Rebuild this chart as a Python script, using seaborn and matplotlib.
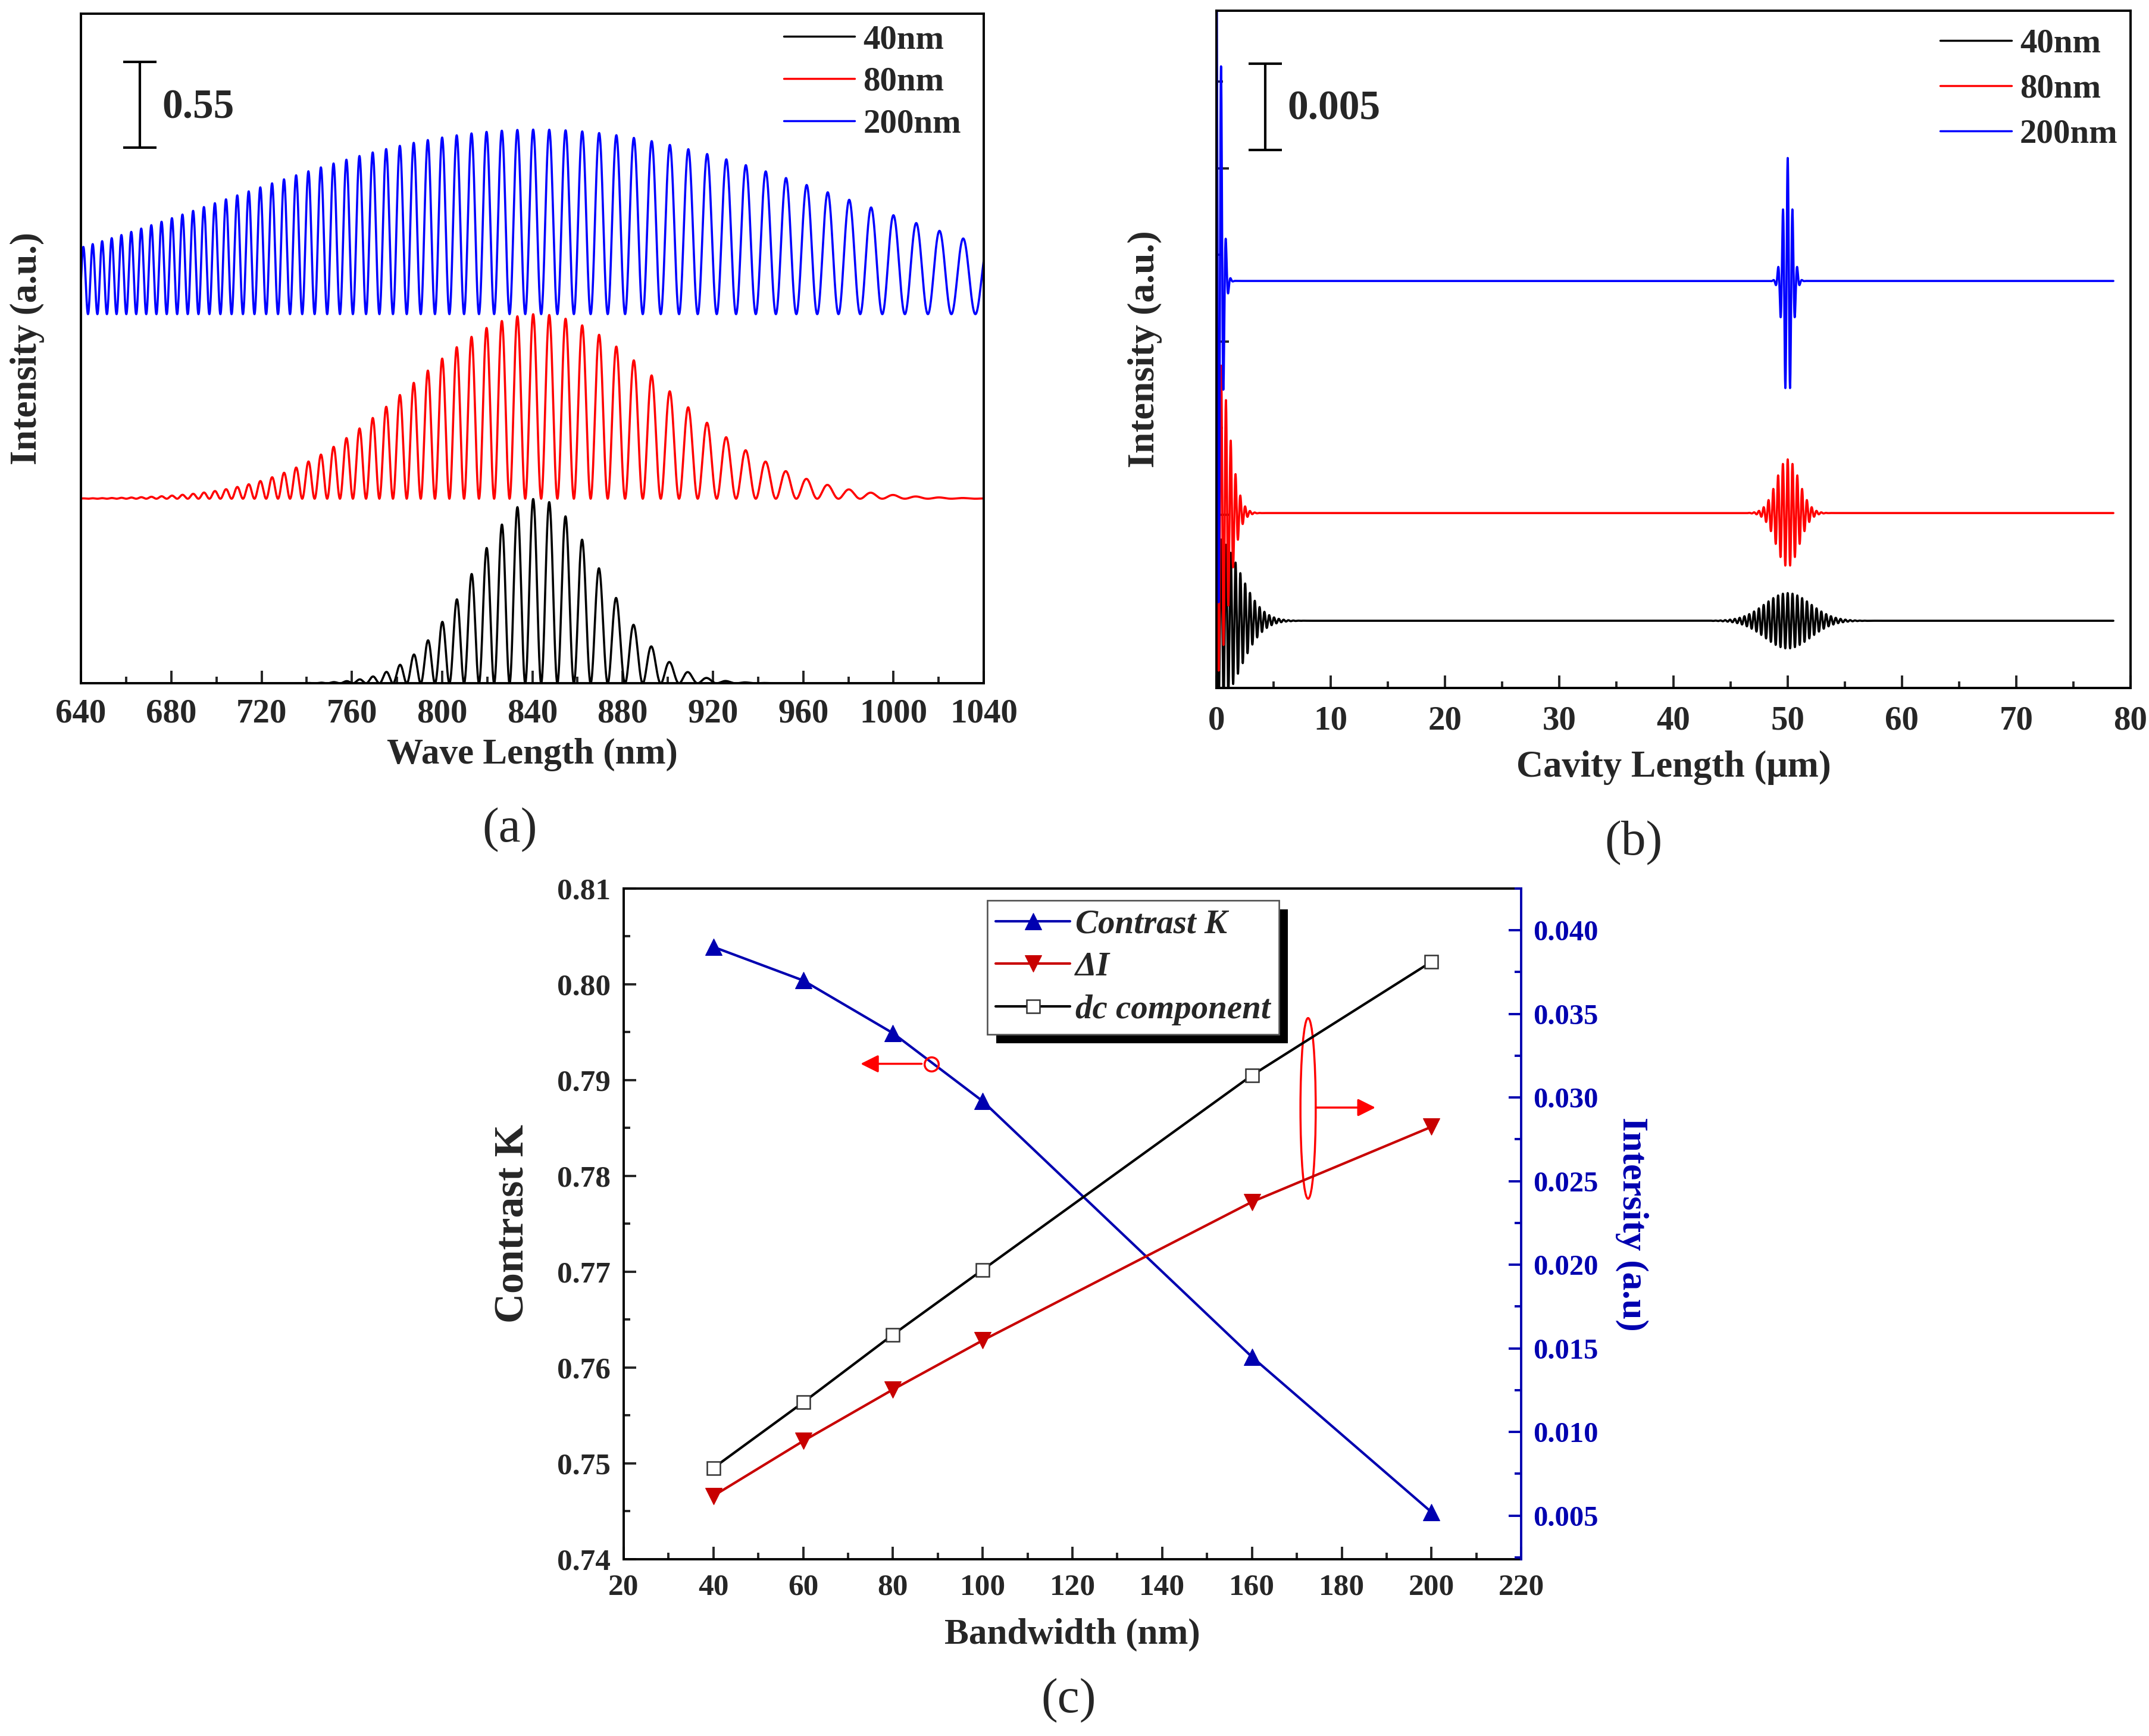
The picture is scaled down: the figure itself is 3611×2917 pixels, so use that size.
import numpy as np
import pandas as pd
import matplotlib
matplotlib.use('Agg')
import matplotlib.pyplot as plt
import seaborn as sns
from matplotlib.patches import Ellipse
from matplotlib import patheffects as pe
from matplotlib.ticker import MultipleLocator, FormatStrFormatter

# ---- (a) spectra: values ----
bandwidths = [40, 80, 200]            # nm, source bandwidth of each curve
curve_labels = ['40nm', '80nm', '200nm']
curve_colors = ['black', 'red', 'blue']
center_wl = 842.0                     # nm, centre of the envelopes
cavity_um = 50.0                      # um, cavity length (fringe spacing / peak in b)
peak_a = 1.19                         # fringe peak height in (a)
offsets_a = [0.0, 1.19, 2.38]         # stacking offsets in (a)
wl_lim = (640, 1040)

# ---- (b) cavity-length transform ----
peak_b = [0.0016, 0.0031, 0.0071]     # amplitude of the 50 um peak
dc_ratio = 3.0                        # dc peak / cavity peak
offsets_b = [0.00388, 0.0101, 0.0235]
z_end = 78.5

# ---- (c) contrast / intensity vs bandwidth ----
bandwidth_c = [40, 60, 80, 100, 160, 200]
contrast_k = [0.8039, 0.8004, 0.7949, 0.7878, 0.7611, 0.7449]
delta_i = [0.00618, 0.00946, 0.01254, 0.01548, 0.02376, 0.02825]
dc_comp = [0.00785, 0.01177, 0.01582, 0.0197, 0.03133, 0.03812]

sns.set_theme(style='ticks')
plt.rcParams['font.family'] = ['Liberation Serif', 'DejaVu Serif']
plt.rcParams['font.weight'] = 'bold'
plt.rcParams['axes.linewidth'] = 2.8

navy = '#0000b0'
dred = '#c80000'

fig = plt.figure(figsize=(36.11, 29.17), dpi=100)
ax_a = fig.add_axes([0.0377, 0.6064, 0.4201, 0.3857])
ax_b = fig.add_axes([0.5660, 0.6037, 0.4254, 0.3901])
ax_c = fig.add_axes([0.2902, 0.1019, 0.4177, 0.3863])


def style_ticks(ax, size):
    ax.tick_params(which='major', direction='in', length=15, width=2.8,
                   labelsize=size, top=False, right=False)
    ax.tick_params(which='minor', direction='in', length=8, width=2.8,
                   top=False, right=False)
    for s in ax.spines.values():
        s.set_color('black')
        s.set_linewidth(2.8)


# ---------------- panel (a) ----------------
wl = np.linspace(wl_lim[0], wl_lim[1], 8001)
rows = []
for bw, lab, off in zip(bandwidths, curve_labels, offsets_a):
    env = np.exp(-((wl - center_wl) / bw) ** 2)
    inten = off + peak_a / 2 * env * (1 + np.cos(4 * np.pi * cavity_um * 1000 / wl))
    rows.append(pd.DataFrame({'wl': wl, 'I': inten, 'curve': lab}))
df_a = pd.concat(rows, ignore_index=True)

sns.lineplot(data=df_a, x='wl', y='I', hue='curve', palette=curve_colors,
             hue_order=curve_labels, estimator=None, sort=False, lw=2.6,
             ax=ax_a)
ax_a.set_xlim(*wl_lim)
ax_a.set_ylim(0, 4.317)
ax_a.xaxis.set_major_locator(MultipleLocator(40))
ax_a.xaxis.set_minor_locator(MultipleLocator(20))
ax_a.set_yticks([])
style_ticks(ax_a, 41)
ax_a.tick_params(axis='x', pad=18)
ax_a.set_xlabel('Wave Length (nm)', fontsize=44, fontweight='bold')
ax_a.set_ylabel('Intensity (a.u.)', fontsize=45, fontweight='bold')
ax_a.xaxis.set_label_coords(0.5, -0.082)
ax_a.yaxis.set_label_coords(-0.040, 0.5)
ax_a.errorbar([666], [3.73], yerr=[0.275], color='black', lw=3,
              capsize=20, capthick=3)
ax_a.text(676, 3.71, '0.55', fontsize=50, fontweight='bold', va='center',
          ha='left')
leg = ax_a.legend(loc='upper right', bbox_to_anchor=(0.975, 0.984),
                  frameon=False, fontsize=41, handlelength=2.1,
                  handletextpad=0.25, labelspacing=0.33, borderaxespad=0,
                  borderpad=0)
for ln in leg.get_lines():
    ln.set_linewidth(2.5)

# ---------------- panel (b) ----------------
z = np.linspace(0, z_end, 7851)
k0 = 2 * np.pi / (center_wl / 1000)
rows = []
for bw, lab, amp, off in zip(bandwidths, curve_labels, peak_b, offsets_b):
    w = (center_wl / 1000) ** 2 / (2 * np.pi * bw / 1000)
    g = dc_ratio * np.exp(-(z / w) ** 2) * np.cos(2 * k0 * z)
    g += np.exp(-((z - cavity_um) / w) ** 2) * np.cos(2 * k0 * (z - cavity_um))
    rows.append(pd.DataFrame({'z': z, 'I': off + amp * g, 'curve': lab}))
df_b = pd.concat(rows, ignore_index=True)

sns.lineplot(data=df_b, x='z', y='I', hue='curve', palette=curve_colors,
             hue_order=curve_labels, estimator=None, sort=False, lw=2.6,
             ax=ax_b)
ax_b.set_xlim(0, 80)
ax_b.set_ylim(0, 0.0391)
ax_b.xaxis.set_major_locator(MultipleLocator(10))
ax_b.xaxis.set_minor_locator(MultipleLocator(5))
ax_b.yaxis.set_major_locator(MultipleLocator(0.01))
ax_b.yaxis.set_minor_locator(MultipleLocator(0.005))
style_ticks(ax_b, 41)
ax_b.tick_params(axis='y', labelleft=False)
ax_b.tick_params(axis='x', pad=21)
ax_b.set_xlabel('Cavity Length (\u03bcm)', fontsize=45, fontweight='bold')
ax_b.set_ylabel('Intensity (a.u.)', fontsize=46, fontweight='bold')
ax_b.xaxis.set_label_coords(0.5, -0.092)
ax_b.yaxis.set_label_coords(-0.059, 0.5)
ax_b.errorbar([4.3], [0.03355], yerr=[0.0025], color='black', lw=3,
              capsize=20, capthick=3)
ax_b.text(6.2, 0.0334, '0.005', fontsize=50, fontweight='bold', va='center',
          ha='left')
leg = ax_b.legend(loc='upper right', bbox_to_anchor=(0.986, 0.974),
                  frameon=False, fontsize=41, handlelength=2.1,
                  handletextpad=0.25, labelspacing=0.42, borderaxespad=0,
                  borderpad=0)
for ln in leg.get_lines():
    ln.set_linewidth(2.5)

# ---------------- panel (c) ----------------
ax2 = ax_c.twinx()
sns.lineplot(x=bandwidth_c, y=contrast_k, ax=ax_c, color=navy, marker='^',
             markersize=20, markeredgecolor=navy, lw=3, label='Contrast K',
             legend=False)
sns.lineplot(x=bandwidth_c, y=delta_i, ax=ax2, color=dred, marker='v',
             markersize=20, markeredgecolor=dred, lw=3, label='\u0394I',
             legend=False)
sns.lineplot(x=bandwidth_c, y=dc_comp, ax=ax2, color='black', marker='s',
             markersize=16, markerfacecolor='white', markeredgecolor='#333333',
             markeredgewidth=1.8, lw=3, label='dc component', legend=False)

ax_c.set_xlim(20, 220)
ax_c.set_ylim(0.74, 0.81)
ax2.set_ylim(0.0024, 0.0425)
ax_c.xaxis.set_major_locator(MultipleLocator(20))
ax_c.xaxis.set_minor_locator(MultipleLocator(10))
ax_c.yaxis.set_major_locator(MultipleLocator(0.01))
ax_c.yaxis.set_minor_locator(MultipleLocator(0.005))
ax_c.yaxis.set_major_formatter(FormatStrFormatter('%.2f'))
style_ticks(ax_c, 37)
ax_c.tick_params(axis='x', pad=18)
ax_c.tick_params(axis='y', pad=16)
ax_c.spines['right'].set_visible(False)

ax2.yaxis.set_major_locator(MultipleLocator(0.005))
ax2.yaxis.set_minor_locator(MultipleLocator(0.0025))
ax2.yaxis.set_major_formatter(FormatStrFormatter('%.3f'))
ax2.tick_params(which='major', direction='in', length=15, width=2.8,
                labelsize=35, colors=navy, pad=14)
ax2.tick_params(which='minor', direction='in', length=8, width=2.8,
                colors=navy)
for side in ['left', 'top', 'bottom']:
    ax2.spines[side].set_visible(False)
ax2.spines['right'].set_color(navy)
ax2.spines['right'].set_linewidth(2.8)

ax_c.set_xlabel('Bandwidth (nm)', fontsize=44, fontweight='bold')
ax_c.set_ylabel('Contrast K', fontsize=50, fontweight='bold')
ax2.set_ylabel('Intersity (a.u)', fontsize=44, fontweight='bold', color=navy,
               rotation=270)
ax_c.xaxis.set_label_coords(0.5, -0.088)
ax_c.yaxis.set_label_coords(-0.102, 0.5)
ax2.yaxis.set_label_coords(1.142, 0.5)

# annotations: circle + arrow to the left axis, ellipse + arrow to the right
ax_c.plot([88.6], [0.7917], marker='o', ms=17, mfc='none', mec='red',
          mew=2.5, ls='none')
ax_c.annotate('', xy=(72.8, 0.7917), xytext=(86.4, 0.7917),
              arrowprops=dict(arrowstyle='-|>', color='red', lw=2.5,
                              mutation_scale=45, shrinkA=0, shrinkB=0))
ax2.add_patch(Ellipse((172.5, 0.02935), 3.4, 0.0108, fill=False,
                      edgecolor='red', lw=2.5))
ax2.annotate('', xy=(187.5, 0.0294), xytext=(174.2, 0.0294),
             arrowprops=dict(arrowstyle='-|>', color='red', lw=2.5,
                             mutation_scale=45, shrinkA=0, shrinkB=0))

h1, l1 = ax_c.get_legend_handles_labels()
h2, l2 = ax2.get_legend_handles_labels()
leg = ax2.legend(h1 + h2, l1 + l2, loc='upper left',
                 bbox_to_anchor=(0.405, 0.982), borderaxespad=0,
                 fancybox=False, framealpha=1, edgecolor='#555555',
                 prop=dict(family='Liberation Serif', style='italic',
                           weight='bold', size=41),
                 handlelength=2.2, handletextpad=0.15, labelspacing=0.35,
                 borderpad=0.25)
leg.get_frame().set_linewidth(1.8)
leg.get_frame().set_path_effects([
    pe.withSimplePatchShadow(offset=(11, -11), shadow_rgbFace='black',
                             alpha=1.0),
    pe.Normal()])

# panel letters
fig.text(0.2372, 0.522, '(a)', fontsize=60, fontweight='normal',
         ha='center', va='center')
fig.text(0.7602, 0.5142, '(b)', fontsize=60, fontweight='normal',
         ha='center', va='center')
fig.text(0.4974, 0.0205, '(c)', fontsize=60, fontweight='normal',
         ha='center', va='center')

fig.savefig('out.png', dpi=100, facecolor='white')
